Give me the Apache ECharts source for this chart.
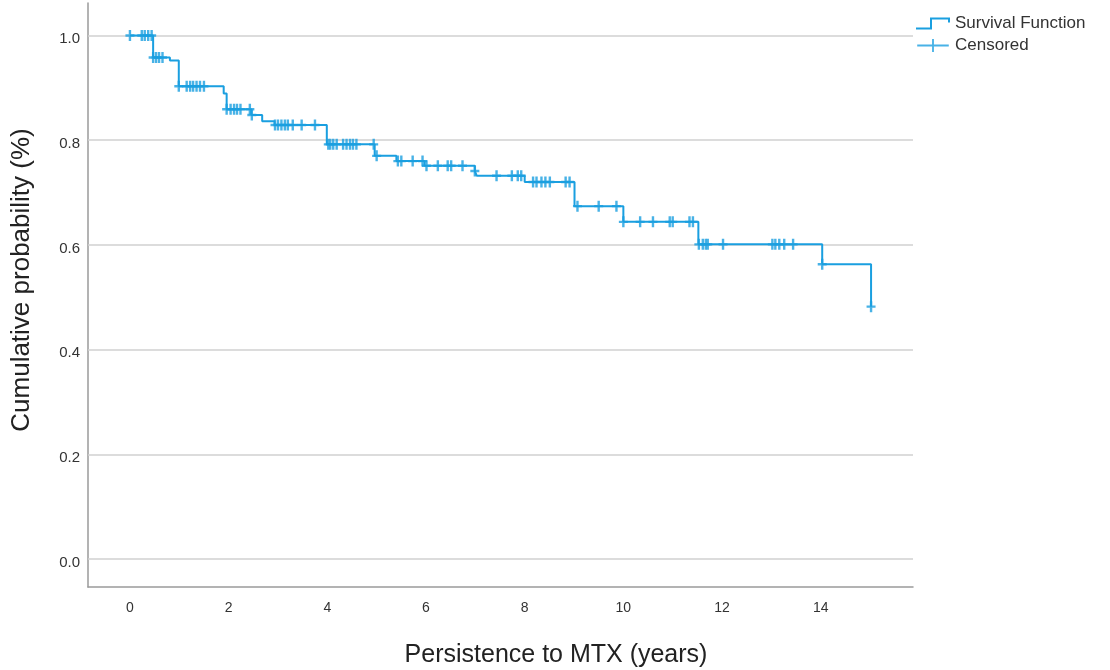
<!DOCTYPE html>
<html>
<head>
<meta charset="utf-8">
<script src="https://cdn.jsdelivr.net/npm/echarts@6/dist/echarts.min.js"></script>
<style>
  html, body { margin: 0; padding: 0; background: #ffffff; }
  #chart { width: 1110px; height: 670px; }
</style>
</head>
<body>
<div id="chart"></div>
<script>
// Kaplan-Meier estimate: times (years) where the curve steps, and the level after each step
const eventTimes = [0, 0.47, 0.81, 0.99, 1.90, 1.96, 2.46, 2.68, 2.93, 3.99, 4.96, 5.40, 5.97, 6.99, 7.03, 8.00, 9.01, 10.00, 11.52, 14.03, 15.02];
const survival   = [1.000, 0.958, 0.952, 0.903, 0.889, 0.859, 0.848, 0.836, 0.829, 0.792, 0.770, 0.760, 0.751, 0.741, 0.732, 0.720, 0.674, 0.644, 0.601, 0.563, 0.482];

// Censored observations (years)
const censorTimes = [
  0, 0.24, 0.30, 0.37, 0.44,
  0.47, 0.53, 0.59, 0.66,
  0.99, 1.15, 1.22, 1.28, 1.35, 1.42, 1.50,
  1.96, 2.04, 2.11, 2.17, 2.24, 2.43,
  2.47,
  2.94, 3.00, 3.07, 3.14, 3.20, 3.30, 3.48, 3.75,
  4.02, 4.06, 4.12, 4.19, 4.32, 4.39, 4.46, 4.52, 4.59, 4.94,
  5.00,
  5.43, 5.50, 5.73, 5.93,
  6.01, 6.24, 6.44, 6.51, 6.74,
  6.99,
  7.43, 7.74, 7.86, 7.93,
  8.17, 8.24, 8.34, 8.42, 8.51, 8.83, 8.91,
  9.07, 9.50, 9.86,
  10.00, 10.34, 10.60, 10.94, 11.00, 11.34, 11.41,
  11.53, 11.61, 11.67, 11.71, 12.02,
  13.02, 13.08, 13.16, 13.26, 13.44,
  14.03,
  15.02
];

const xTicks = [0, 2, 4, 6, 8, 10, 12, 14];
const yTicks = [0, 0.2, 0.4, 0.6, 0.8, 1.0];

const BLUE = '#1a9fe0';

// level of the step function at time t
function survivalAt(t) {
  let s = survival[0];
  for (let i = 0; i < eventTimes.length; i++) {
    if (eventTimes[i] <= t + 1e-9) s = survival[i];
  }
  return s;
}

// legend glyphs
const stepIcon = 'path://M0,10.2 L14,10.2 L14,0 L34,0 L34,5 L32,5 L32,2 L16,2 L16,12.2 L0,12.2 Z';
const crossIcon = 'path://M0,6 L16,6 L16,0 L18,0 L18,6 L34,6 L34,8 L18,8 L18,14 L16,14 L16,8 L0,8 Z';
// censor tick mark
const censorMark = 'path://M0,4.3 L3.3,4.3 L3.3,0 L5.7,0 L5.7,4.3 L9,4.3 L9,6.7 L5.7,6.7 L5.7,11 L3.3,11 L3.3,6.7 L0,6.7 Z';

const FONT = '"Liberation Sans", Arial, sans-serif';

const chart = echarts.init(document.getElementById('chart'), null, { renderer: 'canvas' });

chart.setOption({
  animation: false,
  backgroundColor: '#ffffff',
  textStyle: { fontFamily: FONT },
  grid: { left: 88, right: 197, top: 3, bottom: 83, containLabel: false, outerBoundsMode: 'none' },
  legend: {
    orient: 'vertical',
    left: 911,
    top: 10,
    itemWidth: 34,
    itemHeight: 13,
    itemGap: 5,
    itemStyle: { borderWidth: 0 },
    textStyle: { fontSize: 17, color: '#333333', fontFamily: FONT },
    data: [
      { name: 'Survival Function', icon: stepIcon },
      { name: 'Censored', icon: crossIcon }
    ]
  },
  xAxis: {
    type: 'value',
    min: -0.85,
    max: 15.87,
    axisLine: { show: true, onZero: false, lineStyle: { color: '#9a9a9a', width: 1.5 } },
    axisTick: { show: false },
    splitLine: { show: false },
    axisLabel: {
      customValues: xTicks,
      fontSize: 14,
      color: '#333333',
      margin: 14,
      fontFamily: FONT
    }
  },
  yAxis: {
    type: 'value',
    min: -0.0535,
    max: 1.062,
    axisLine: { show: true, onZero: false, lineStyle: { color: '#9a9a9a', width: 1.5 } },
    axisTick: { show: false },
    splitLine: { show: false },
    axisLabel: {
      customValues: yTicks,
      formatter: v => v.toFixed(1),
      fontSize: 15,
      color: '#333333',
      margin: 8,
      verticalAlign: 'top',
      padding: [-4, 0, 0, 0],
      fontFamily: FONT
    }
  },
  graphic: [
    {
      type: 'text',
      x: 556, y: 655,
      style: {
        text: 'Persistence to MTX (years)',
        font: '25px ' + FONT,
        fill: '#222222',
        align: 'center',
        verticalAlign: 'middle'
      }
    },
    {
      type: 'text',
      x: 22, y: 280,
      rotation: Math.PI / 2,
      style: {
        text: 'Cumulative probability (%)',
        font: '26px ' + FONT,
        fill: '#222222',
        align: 'center',
        verticalAlign: 'middle'
      }
    }
  ],
  series: [
    {
      // horizontal reference lines, kept underneath the curve
      type: 'line',
      name: 'grid',
      data: [],
      z: 1,
      silent: true,
      markLine: {
        z: 1,
        silent: true,
        symbol: ['none', 'none'],
        label: { show: false },
        lineStyle: { color: '#d0d0d0', width: 1.5, type: 'solid' },
        data: yTicks.map(v => ({ yAxis: v }))
      }
    },
    {
      type: 'line',
      name: 'Survival Function',
      step: 'end',
      showSymbol: false,
      symbol: 'none',
      z: 3,
      color: BLUE,
      itemStyle: { color: BLUE },
      lineStyle: { color: BLUE, width: 2 },
      data: eventTimes.map((t, i) => [t, survival[i]])
    },
    {
      type: 'scatter',
      name: 'Censored',
      symbol: censorMark,
      symbolSize: [9, 11],
      z: 4,
      color: BLUE,
      itemStyle: { color: BLUE },
      data: censorTimes.map(t => [t, survivalAt(t)])
    }
  ]
});
</script>
</body>
</html>
